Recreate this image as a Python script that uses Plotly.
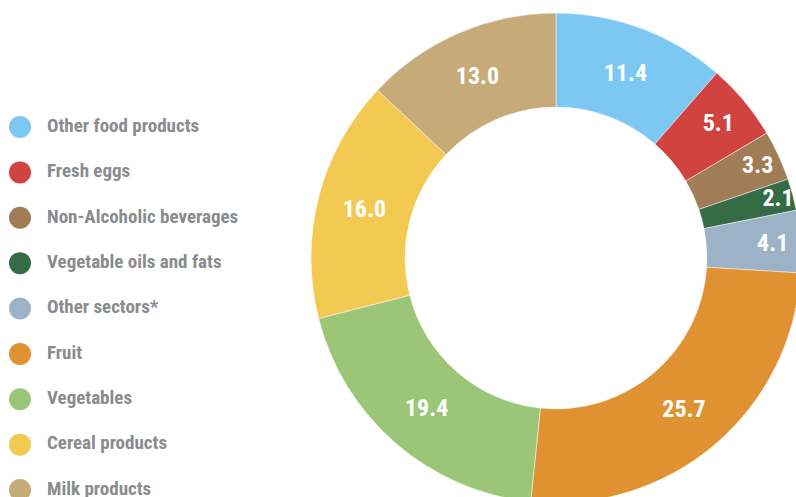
import plotly.graph_objects as go

categories = ["Other food products", "Fresh eggs", "Non-Alcoholic beverages",
              "Vegetable oils and fats", "Other sectors*", "Fruit", "Vegetables",
              "Cereal products", "Milk products"]
values = [11.4, 5.1, 3.3, 2.1, 4.1, 25.7, 19.4, 16.0, 13.0]
colors = ["#7DC8F2", "#D0433F", "#A07C57", "#356B45", "#9CB3C7",
          "#E09233", "#9BC677", "#F2CA52", "#C6AA78"]

COND = "Roboto Condensed, Liberation Sans Narrow, Arial Narrow, DejaVu Sans Condensed, sans-serif"
# figure slightly larger than the 796x497 window so the donut runs off the edges
W, H = 810, 512

# donut geometry (page pixels)
CX, CY, R = 556, 258, 245

fig = go.Figure()

fig.add_trace(go.Pie(
    labels=categories, values=values, sort=False, direction="clockwise",
    rotation=0, hole=0.616,
    marker=dict(colors=colors, line=dict(color="rgba(255,255,255,0.6)", width=0.8)),
    texttemplate="%{value:.1f}", textposition="inside",
    insidetextorientation="horizontal",
    textfont=dict(family=COND, size=24, color="white", weight="bold"),
    domain=dict(x=[(CX - R) / W, (CX + R) / W],
                y=[(H - CY - R) / H, (H - CY + R) / H]),
    showlegend=False, hoverinfo="none",
))

# legend drawn as a categorical scatter (circles + labels)
fig.add_trace(go.Scatter(
    x=[0] * len(categories), y=categories, mode="markers",
    marker=dict(size=22, color=colors, line=dict(width=0)),
    showlegend=False, hoverinfo="skip", cliponaxis=False,
))
fig.add_trace(go.Scatter(
    x=[1] * len(categories), y=categories, mode="text", text=categories,
    textposition="middle right",
    textfont=dict(family=COND, size=19, color="#8A8B8D", weight="bold"),
    showlegend=False, hoverinfo="skip", cliponaxis=False,
))

x0px, x1px = 20, 47
unit_x = x1px - x0px
y0px, y8px = 127, 490
unit_y = (y8px - y0px) / 8
fig.update_layout(
    width=W, height=H, margin=dict(l=0, r=0, t=0, b=0),
    paper_bgcolor="white", plot_bgcolor="rgba(0,0,0,0)",
    uniformtext=dict(minsize=24, mode="show"),
    hovermode=False,
    xaxis=dict(visible=False, domain=[0, 1],
               range=[-x0px / unit_x, (W - x0px) / unit_x], fixedrange=True),
    yaxis=dict(visible=False, domain=[0, 1], type="category",
               categoryorder="array", categoryarray=categories,
               range=[8 + (H - y8px) / unit_y, -y0px / unit_y], fixedrange=True),
)

fig.write_html(
    "out.html",
    config={"displayModeBar": False, "staticPlot": True},
    post_script="document.body.style.margin='0';document.body.style.overflow='hidden';",
)
